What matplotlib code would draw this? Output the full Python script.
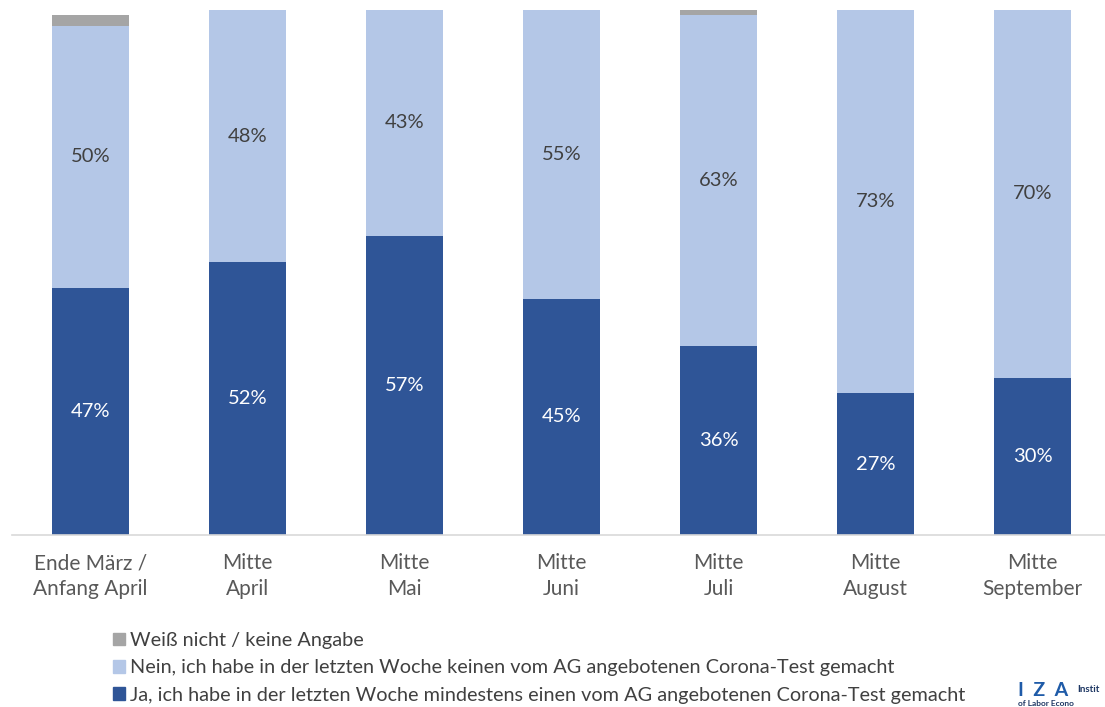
import matplotlib.pyplot as plt
from matplotlib.patches import Patch

plt.rcParams['font.family'] = ['Lato', 'DejaVu Sans']

categories = ['Ende März /\nAnfang April', 'Mitte\nApril', 'Mitte\nMai', 'Mitte\nJuni',
              'Mitte\nJuli', 'Mitte\nAugust', 'Mitte\nSeptember']
ja = [47, 52, 57, 45, 36, 27, 30]
nein = [50, 48, 43, 55, 63, 73, 70]
weiss = [2, 0, 0, 0, 1, 0, 0]

c_ja = '#2F5597'
c_nein = '#B4C7E7'
c_weiss = '#A5A5A5'

fig = plt.figure(figsize=(11.05, 7.07), dpi=100)
ax = fig.add_axes([12 / 1105, (707 - 535) / 707, 1 - 12 / 1105, 535 / 707])

x = list(range(len(categories)))
w = 0.49
ax.bar(x, ja, width=w, color=c_ja)
ax.bar(x, nein, width=w, bottom=ja, color=c_nein)
ax.bar(x, weiss, width=w, bottom=[a + b for a, b in zip(ja, nein)], color=c_weiss)

for i in x:
    ax.text(i, ja[i] / 2, f'{ja[i]}%', ha='center', va='center', color='white', fontsize=14.5)
    ax.text(i, ja[i] + nein[i] / 2, f'{nein[i]}%', ha='center', va='center',
            color='#404040', fontsize=14.5)

ax.set_xlim(-0.5, 6.46)
ax.set_ylim(0, 100 * 535 / 525)
ax.set_xticks(x)
ax.set_xticklabels(categories, fontsize=15, color='#595959', linespacing=1.4)
ax.tick_params(axis='x', length=0, pad=13)
ax.set_yticks([])
for s in ['top', 'right', 'left']:
    ax.spines[s].set_visible(False)
ax.spines['bottom'].set_color('#D9D9D9')
ax.spines['bottom'].set_linewidth(1.2)

handles = [Patch(color=c_weiss), Patch(color=c_nein), Patch(color=c_ja)]
labels = ['Weiß nicht / keine Angabe',
          'Nein, ich habe in der letzten Woche keinen vom AG angebotenen Corona-Test gemacht',
          'Ja, ich habe in der letzten Woche mindestens einen vom AG angebotenen Corona-Test gemacht']
fig.legend(handles, labels, loc='upper left', bbox_to_anchor=(103 / 1105, 1 - 622 / 707),
           frameon=False, fontsize=14.3, handlelength=0.6, handleheight=0.6,
           handletextpad=0.25, labelspacing=0.52, labelcolor='#404040', borderpad=0)

# IZA logo (cut off at right edge)
fig.text(1018 / 1105, 1 - 690 / 707, 'I  Z  A', color='#1F5BA8', fontsize=14,
         fontweight='bold', va='center')
fig.text(1077 / 1105, 1 - 690 / 707, 'Instit', color='#1F3864', fontsize=7,
         fontweight='bold', va='center')
fig.text(1018 / 1105, 1 - 704 / 707, 'of Labor Econo', color='#1F3864', fontsize=6,
         fontweight='bold', va='center')

fig.savefig('out.png', dpi=100)
